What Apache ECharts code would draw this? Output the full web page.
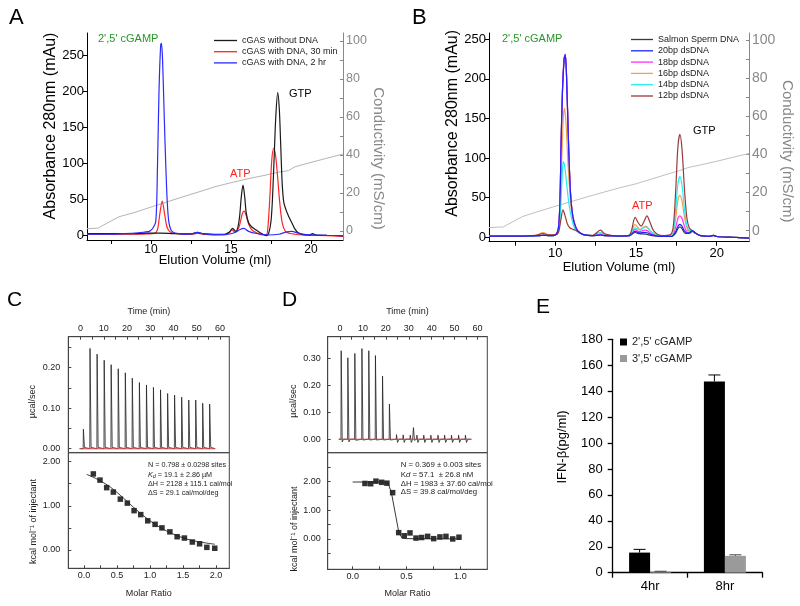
<!DOCTYPE html>
<html>
<head>
<meta charset="utf-8">
<script src="https://cdn.jsdelivr.net/npm/echarts@6.0.0/dist/echarts.min.js"></script>
<style>
html,body{margin:0;padding:0;background:#fff;}
#chart{width:800px;height:606px;}
</style>
</head>
<body>
<div id="chart"></div>
<script>
// ================= Panel A =================
const aNames = ['cGAS without DNA', 'cGAS with DNA, 30 min', 'cGAS with DNA, 2 hr'];
const aBlack = [[6,3],[7,3],[8,3],[9,3],[9.8,3.5],[10.6,3.5],[11.3,3],[12,2.5],[12.6,3],[12.9,4.5],[13.2,3],[14,2],[14.6,2],[14.9,5],[15.1,10],[15.3,6],[15.5,20],[15.65,55],[15.75,70],[15.85,55],[15.95,32],[16.1,18],[16.3,12],[16.5,9],[16.75,5],[17.0,2],[17.2,0],[17.35,3],[17.5,20],[17.6,55],[17.7,110],[17.8,165],[17.92,198],[18.02,175],[18.1,130],[18.2,72],[18.3,46],[18.45,35],[18.6,27],[18.8,18],[19.0,9],[19.2,4],[19.5,1.5],[19.9,1],[20.1,3],[20.3,1],[21,0.5],[22,0]];
const aRed = [[6,2],[8,2],[9,2],[9.8,2.5],[10.2,3],[10.4,8],[10.55,30],[10.7,48],[10.85,30],[11.0,12],[11.2,5],[11.5,3],[12,2],[12.6,2],[12.9,3.5],[13.2,2],[14,1],[14.6,1],[14.9,4],[15.05,8],[15.25,5],[15.5,12],[15.7,30],[15.82,34],[15.95,28],[16.1,16],[16.3,8],[16.6,4],[17.0,1],[17.2,1],[17.3,10],[17.42,50],[17.55,105],[17.67,121],[17.78,112],[17.9,85],[18.05,45],[18.2,18],[18.4,6],[18.7,3],[19,2],[19.5,1],[20,0.5],[21,0],[22,-1]];
const aBlue = [[6,2],[7,2],[8,2.5],[9,3.5],[9.6,5],[9.9,6],[10.1,10],[10.3,20],[10.4,90],[10.5,200],[10.6,262],[10.65,266],[10.72,245],[10.82,170],[10.92,100],[11.02,45],[11.12,18],[11.25,8],[11.45,4],[11.7,3],[12,2],[12.6,3],[12.9,4.5],[13.2,3],[14,1.5],[14.8,2],[15.2,4],[15.6,9],[15.8,10],[16.1,6],[16.6,3],[17.3,1],[18,2],[18.5,5.5],[18.8,6],[19.2,3.5],[19.7,1.5],[20.2,1],[21,0.5],[22,0]];
const aConductivity = [[6,1.2],[6.7,1.5],[7,3],[8,7.5],[9,9.8],[10,12.6],[11,15.3],[12,18],[13,20.6],[14,23.3],[15,25.4],[16,27.4],[17,29.1],[18,31],[18.6,31.8],[19,33.8],[20,36.1],[21,38.3],[22,40.5]];

// ================= Panel B =================
const bNames = ['Salmon Sperm DNA','20bp dsDNA','18bp dsDNA','16bp dsDNA','14bp dsDNA','12bp dsDNA'];
const bSalmon = [[5.9,1.5],[8,1.5],[9,2],[9.3,2.5],[9.6,2],[10,3],[10.2,12],[10.3,50],[10.36,115],[10.45,185],[10.55,225],[10.62,231],[10.7,205],[10.83,115],[10.95,55],[11.1,25],[11.3,11],[11.5,6],[11.8,3],[12.3,2],[12.8,3],[13.1,2],[14,1.5],[14.6,2],[14.95,6],[15.2,4.5],[15.6,4],[16,2],[16.6,1],[17.2,1],[17.45,5],[17.6,11],[17.72,13],[17.85,11],[18.05,5],[18.3,5],[18.5,7.5],[18.7,5],[19,2],[19.5,1],[19.8,2.5],[20,1],[21,0],[22,-1]];
const b20 = [[5.9,1.5],[8,1.5],[9,2],[9.3,2.5],[9.6,2],[10,3],[10.2,12],[10.3,50],[10.36,114],[10.45,184],[10.55,224],[10.62,230],[10.7,204],[10.83,114],[10.95,54],[11.1,25],[11.3,11],[11.5,6],[11.8,3],[12.3,2],[12.8,3],[13.1,2],[14,1.5],[14.6,2],[14.95,7.5],[15.2,5.5],[15.6,6],[16,3],[16.6,1],[17.2,1],[17.45,7],[17.6,14],[17.72,16.4],[17.85,14],[18.0,8],[18.2,5.5],[18.5,8],[18.7,5],[19,2],[19.5,1],[19.8,2.5],[20,1],[21,0],[22,-1]];
const b18 = [[5.9,1.5],[8,1.5],[9,2],[9.3,3],[9.6,2],[10,3],[10.2,12],[10.3,51],[10.36,116],[10.45,186],[10.55,226],[10.62,231],[10.7,206],[10.83,116],[10.95,56],[11.1,26],[11.3,12],[11.5,6],[11.8,3],[12.3,2],[12.8,4],[13.1,2],[14,1.5],[14.6,2],[14.95,10],[15.2,7],[15.6,9],[16,4],[16.6,1],[17.2,1.5],[17.45,12],[17.6,24],[17.72,27],[17.85,24],[18.0,14],[18.15,8],[18.5,8.5],[18.7,5],[19,2],[19.5,1],[19.8,2.5],[20,1],[21,0],[22,-1]];
const b16 = [[5.9,1.5],[8,1.5],[8.8,2.5],[9.25,5.8],[9.6,3],[10,3],[10.2,8],[10.3,35],[10.4,95],[10.5,150],[10.58,163],[10.68,140],[10.8,90],[10.95,45],[11.1,22],[11.3,10],[11.5,6],[11.8,3],[12.3,2],[12.8,6],[13.1,3],[14,1.5],[14.6,2.5],[14.95,16],[15.25,10],[15.6,14],[16,6],[16.6,2],[17.2,2],[17.45,23],[17.6,47],[17.72,53],[17.85,46],[18.0,26],[18.15,12],[18.3,8],[18.5,8],[18.7,5],[19,2],[19.5,1],[19.8,2.5],[20,1],[21,0],[22,-1]];
const b14 = [[5.9,1.5],[8,1.5],[9,2],[9.3,3],[9.6,2],[10,3],[10.2,7],[10.3,25],[10.4,65],[10.5,95.5],[10.6,88],[10.72,65],[10.85,42],[11.0,25],[11.15,14],[11.3,8],[11.5,5],[11.8,3],[12.3,2],[12.8,6],[13.1,3],[14,1.5],[14.6,2.5],[14.95,12],[15.25,9],[15.6,13],[16,6],[16.6,2],[17.1,2],[17.3,6],[17.45,33],[17.6,68],[17.72,76.5],[17.85,66],[18.0,36],[18.15,15],[18.3,9],[18.5,8],[18.7,5],[19,2],[19.5,1],[19.8,2.5],[20,1],[21,0],[22,-1]];
const b12 = [[5.9,1.5],[8,1.5],[8.8,2.5],[9.25,4.5],[9.6,3],[10,3],[10.2,6],[10.35,22],[10.48,34.5],[10.6,28],[10.75,17],[10.9,12],[11.1,10],[11.3,8.5],[11.5,6],[11.8,3],[12.3,2],[12.8,9],[13.1,4],[14,1.5],[14.6,3],[14.95,25],[15.15,18],[15.33,14],[15.5,20],[15.68,27],[15.85,20],[16.1,8],[16.6,2],[17.1,3],[17.3,12],[17.45,55],[17.6,115],[17.72,130],[17.85,112],[18.0,62],[18.15,25],[18.3,12],[18.5,8],[18.7,5],[19,2],[19.5,1],[19.8,2.5],[20,1],[21,0],[22,-1]];
const bConductivity = [[5.9,1.6],[6.8,2],[7,3],[8,7.5],[9,10.2],[10,12.8],[11,15.3],[12,17.8],[13,20.2],[14,22.5],[15,24.6],[16,27.2],[17,29.8],[17.7,31.5],[18.3,33.3],[18.5,33.6],[19,34.5],[20,36.4],[21,38.5],[22,40.5]];

// shared chromatogram ticks
const elutionLabels = [10, 15, 20];
const elutionTicks = [7.5, 10, 12.5, 15, 17.5, 20];
const absLabels = [0, 50, 100, 150, 200, 250];
const condLabels = [0, 20, 40, 60, 80, 100];
const condTicks = [0, 10, 20, 30, 40, 50, 60, 70, 80, 90, 100];

// ================= Panel C (ITC) =================
const cInjTime = [1.15,4.0,7.05,10.1,13.1,16.15,19.2,22.2,25.25,28.3,31.3,34.35,37.4,40.4,43.45,46.5,49.5,52.5,55.5];
const cPeak = [0.048,0.247,0.233,0.218,0.207,0.197,0.187,0.174,0.163,0.157,0.151,0.145,0.136,0.132,0.127,0.120,0.120,0.112,0.110];
const cRatio = [0.141,0.242,0.343,0.444,0.55,0.656,0.758,0.859,0.965,1.076,1.18,1.30,1.41,1.52,1.64,1.75,1.86,1.98];
const cHeat = [1.72,1.58,1.41,1.31,1.15,1.06,0.89,0.80,0.66,0.58,0.50,0.41,0.30,0.27,0.18,0.14,0.06,0.04];
const cFitRatio = [0.04,0.2,0.4,0.6,0.8,1.0,1.2,1.4,1.6,1.8,1.98];
const cFitHeat = [1.71,1.60,1.42,1.17,0.90,0.66,0.47,0.33,0.23,0.17,0.13];
const timeLabels = [0, 10, 20, 30, 40, 50, 60];
const timeTicks = [0, 5, 10, 15, 20, 25, 30, 35, 40, 45, 50, 55, 60];

// ================= Panel D (ITC) =================
const dInjTime = [0.44,3.35,6.4,9.5,12.5,15.4,18.5,21.5,24.6,27.5,30.6,32.0,33.5,36.5,39.6,42.7,45.6,48.6,51.7,54.7];
const dPeak = [0.328,0.302,0.318,0.336,0.328,0.310,0.234,0.130,0.017,0.016,0.015,0.043,0.015,0.015,0.015,0.015,0.015,0.015,0.015,0.015];
const dDip = [-0.010,-0.010,-0.004,-0.003,-0.003,-0.003,-0.003,-0.003,-0.012,-0.012,-0.012,-0.004,-0.012,-0.012,-0.012,-0.012,-0.012,-0.012,-0.012,-0.012];
const dRatio = [0.114,0.167,0.216,0.269,0.318,0.371,0.427,0.479,0.532,0.588,0.64,0.696,0.752,0.81,0.866,0.929,0.987];
const dHeat = [1.93,1.92,2.01,1.97,1.94,1.61,0.22,0.11,0.21,0.03,0.05,0.09,0.01,0.07,0.09,0.0,0.06];
const dFitRatio = [0.0,0.3,0.33,0.36,0.40,0.43,0.46,0.50,1.0];
const dFitHeat = [1.98,1.98,1.93,1.60,0.80,0.20,0.03,0.01,0.0];

// ================= Panel E =================
const eCategories = ['4hr', '8hr'];
const eNames = ["2',5' cGAMP", "3',5' cGAMP"];
const e25 = [15.5, 147.5];
const e25Err = [2.5, 5.0];
const e35 = [0.8, 13.0];
const e35Err = [0.3, 0.8];

// ================= build =================
const FONT = "'Liberation Sans', Arial, sans-serif";
const chart = echarts.init(document.getElementById('chart'), null, {renderer: 'canvas'});

function thermo(times, peaks, dips, start, end) {
  const pts = [[start, 0]];
  times.forEach((t, i) => {
    pts.push([t - 0.05, 0], [t + 0.05, peaks[i]], [t + 0.5, dips ? dips[i] : 0.003], [t + 1.1, 0]);
  });
  pts.push([end, 0]);
  return pts;
}
const zip = (xs, ys) => xs.map((x, i) => [x, ys[i]]);

function chromX(gi, min, labelSize, margin, nameGap) {
  return {gridIndex: gi, type: 'value', min: min, max: 22,
    axisLine: {show: true, onZero: false, lineStyle: {color: '#000', width: 1}},
    axisTick: {show: true, customValues: elutionTicks, length: 4, lineStyle: {color: '#000'}},
    axisLabel: {customValues: elutionLabels, fontSize: labelSize, margin: margin, color: '#000', fontFamily: FONT},
    splitLine: {show: false},
    name: 'Elution Volume (ml)', nameLocation: 'middle', nameGap: nameGap, nameMoveOverlap: false,
    nameTextStyle: {fontSize: 13, color: '#000', fontFamily: FONT}};
}
function chromYL(gi, min, max, nameGap, pad) {
  return {gridIndex: gi, type: 'value', position: 'left', min: min, max: max,
    axisLine: {show: true, onZero: false, lineStyle: {color: '#000'}},
    axisTick: {show: true, customValues: absLabels, length: 4, lineStyle: {color: '#000'}},
    axisLabel: {customValues: absLabels, fontSize: 13, margin: 3, color: '#000', fontFamily: FONT},
    splitLine: {show: false},
    name: 'Absorbance 280nm (mAu)', nameLocation: 'middle', nameGap: nameGap,
    nameTextStyle: {fontSize: 16, color: '#000', fontFamily: FONT, padding: pad}};
}
function chromYR(gi, min, max, labelSize, nameGap, pad) {
  return {gridIndex: gi, type: 'value', position: 'right', min: min, max: max,
    axisLine: {show: true, onZero: false, lineStyle: {color: '#888'}},
    axisTick: {show: true, inside: true, customValues: condTicks, length: 3, lineStyle: {color: '#888'}},
    axisLabel: {customValues: condLabels, fontSize: labelSize, margin: 3, color: '#888', fontFamily: FONT},
    splitLine: {show: false},
    name: 'Conductivity (mS/cm)', nameLocation: 'middle', nameRotate: -90, nameGap: nameGap,
    nameTextStyle: {fontSize: 15, color: '#888', fontFamily: FONT, padding: pad}};
}
function itcX(gi, min, max, pos, labels, ticks, name, nameGap, margin, digits) {
  return {gridIndex: gi, type: 'value', position: pos, min: min, max: max,
    axisLine: {show: true, onZero: false, lineStyle: {color: '#444'}},
    axisTick: {show: true, inside: true, customValues: ticks, length: 3, lineStyle: {color: '#444'}},
    axisLabel: {customValues: labels, fontSize: 9, margin: margin, color: '#222', fontFamily: FONT,
      formatter: v => digits === 0 ? String(Math.round(v)) : v.toFixed(digits)},
    splitLine: {show: false},
    name: name, nameLocation: 'middle', nameGap: nameGap,
    nameTextStyle: {fontSize: 9, color: '#222', fontFamily: FONT}};
}
function itcY(gi, min, max, labels, ticks, name, nameGap, margin, pad) {
  return {gridIndex: gi, type: 'value', position: 'left', min: min, max: max,
    axisLine: {show: true, onZero: false, lineStyle: {color: '#444'}},
    axisTick: {show: true, inside: true, customValues: ticks, length: 3, lineStyle: {color: '#444'}},
    axisLabel: {customValues: labels, fontSize: 9, margin: margin, color: '#222', fontFamily: FONT,
      formatter: v => v.toFixed(2)},
    splitLine: {show: false},
    name: name, nameLocation: 'middle', nameGap: nameGap,
    nameTextStyle: {fontSize: 9, color: '#222', fontFamily: FONT, padding: pad}};
}
function ln(name, data, xi, yi, color, width, smooth) {
  return {type: 'line', name: name, data: data, xAxisIndex: xi, yAxisIndex: yi, symbol: 'none',
    smooth: smooth, lineStyle: {color: color, width: width}, itemStyle: {color: color}, silent: true};
}
function errSeries(vals, errs, off, color) {
  return {type: 'custom', xAxisIndex: 6, yAxisIndex: 8, silent: true, z: 5,
    data: vals.map((v, i) => [i, v, errs[i]]),
    renderItem: (p, api) => {
      const base = api.coord([api.value(0), api.value(1)]);
      const top = api.coord([api.value(0), api.value(1) + api.value(2)]);
      const cx = base[0] + off;
      return {type: 'group', children: [
        {type: 'line', shape: {x1: cx, y1: base[1], x2: cx, y2: top[1]}, style: {stroke: color, lineWidth: 1}},
        {type: 'line', shape: {x1: cx - 6, y1: top[1], x2: cx + 6, y2: top[1]}, style: {stroke: color, lineWidth: 1}}
      ]};
    }};
}
function txt(left, top, text, size, color, rich) {
  const el = {type: 'text', left: left, top: top, z: 100, silent: true,
    style: {text: text, fontSize: size, fontFamily: FONT, fill: color}};
  if (rich) el.style.rich = rich;
  return el;
}
const fitRichC = {i: {fontStyle: 'italic', fontSize: 7.2, fontFamily: FONT, fill: '#222'},
                  s: {fontStyle: 'italic', fontSize: 5.5, fontFamily: FONT, fill: '#222', verticalAlign: 'bottom', padding: [3, 0, 0, 0]}};
const fitRichD = {i: {fontStyle: 'italic', fontSize: 7.8, fontFamily: FONT, fill: '#222'}};

const legendText = {fontSize: 9, lineHeight: 11, color: '#222', fontFamily: FONT};

const option = {
  animation: false,
  backgroundColor: '#fff',
  textStyle: {fontFamily: FONT},
  grid: [
    {left: 87, top: 33, width: 256, height: 207},
    {left: 489, top: 33, width: 260, height: 208.7},
    {left: 68.3, top: 336.7, width: 161, height: 116, show: true, borderColor: '#444', borderWidth: 1},
    {left: 68.3, top: 452.7, width: 161, height: 115.6, show: true, borderColor: '#444', borderWidth: 1},
    {left: 327.7, top: 336.7, width: 159.6, height: 116, show: true, borderColor: '#444', borderWidth: 1},
    {left: 327.7, top: 452.7, width: 159.6, height: 116.6, show: true, borderColor: '#444', borderWidth: 1},
    {left: 612.7, top: 339.3, width: 149.6, height: 233.4}
  ],
  xAxis: [
    chromX(0, 6, 12, 4, 13.5),
    chromX(1, 5.9, 13, 5, 19),
    itcX(2, -5.3, 64, 'top', timeLabels, timeTicks, 'Time (min)', 20.5, 3.5, 0),
    itcX(3, -0.238, 2.2, 'bottom', [0, 0.5, 1.0, 1.5, 2.0], [0, 0.25, 0.5, 0.75, 1.0, 1.25, 1.5, 1.75, 2.0], 'Molar Ratio', 20.5, 3, 1),
    itcX(4, -5.4, 64.3, 'top', timeLabels, timeTicks, 'Time (min)', 20.5, 3.5, 0),
    itcX(5, -0.232, 1.25, 'bottom', [0, 0.5, 1.0], [0, 0.25, 0.5, 0.75, 1.0], 'Molar Ratio', 19.5, 2.5, 1),
    {gridIndex: 6, type: 'category', data: eCategories,
      axisLine: {show: true, lineStyle: {color: '#000', width: 1.3}},
      axisTick: {show: true, length: 5, lineStyle: {color: '#000', width: 1.3}},
      axisLabel: {fontSize: 13, margin: 7, color: '#000', fontFamily: FONT}}
  ],
  yAxis: [
    chromYL(0, -5.95, 280.4, 25.5, [0, 0, 0, 21]),
    chromYR(0, -4.74, 104.2, 12.5, 17.5, [0, 0, 0, 44]),
    chromYL(1, -5.6, 258, 26, [0, 0, 0, 28]),
    chromYR(1, -5.77, 103.7, 14, 29.5, [0, 0, 0, 28]),
    itcY(2, -0.0099, 0.276, [0, 0.1, 0.2], [0, 0.05, 0.1, 0.15, 0.2, 0.25], 'µcal/sec', 31, 8, [0, 14, 0, 0]),
    itcY(3, -0.414, 2.2, [0, 1, 2], [0, 0.5, 1, 1.5, 2], 'kcal mol\u207B\u00B9 of injectant', 30.5, 8, [0, 22, 0, 0]),
    itcY(4, -0.05, 0.38, [0, 0.1, 0.2, 0.3], [0, 0.1, 0.2, 0.3], 'µcal/sec', 30, 7, [0, 13, 0, 0]),
    itcY(5, -1.056, 3.0, [0, 1, 2], [-0.5, 0, 0.5, 1, 1.5, 2, 2.5], 'kcal mol\u207B\u00B9 of injectant', 29, 7, [0, 36, 0, 0]),
    {gridIndex: 6, type: 'value', min: 0, max: 180, interval: 20,
      axisLine: {show: true, lineStyle: {color: '#000', width: 1.3}},
      axisTick: {show: true, length: 5, lineStyle: {color: '#000', width: 1.3}},
      axisLabel: {fontSize: 13, margin: 10, color: '#000', fontFamily: FONT},
      splitLine: {show: false},
      name: 'IFN-β(pg/ml)', nameLocation: 'middle', nameGap: 44,
      nameTextStyle: {fontSize: 13, color: '#000', fontFamily: FONT, padding: [0, 0, 0, 18]}}
  ],
  legend: [
    {data: aNames, orient: 'vertical', left: 214, top: 35, padding: 0, icon: 'rect', itemWidth: 23, itemHeight: 1.3, itemGap: 0.2,
      selectedMode: false, textStyle: legendText},
    {data: bNames, orient: 'vertical', left: 631, top: 34, padding: 0, icon: 'rect', itemWidth: 22, itemHeight: 1.3, itemGap: 0.3,
      selectedMode: false, textStyle: legendText},
    {data: eNames, orient: 'vertical', left: 620, top: 336, padding: 0, icon: 'rect', itemWidth: 7, itemHeight: 7, itemGap: 4.5,
      selectedMode: false, textStyle: {fontSize: 11, lineHeight: 12, color: '#222', fontFamily: FONT}}
  ],
  series: [
    // A
    ln('A conductivity', aConductivity, 0, 1, '#b5b5b5', 1, false),
    ln(aNames[1], aRed, 0, 0, '#ff2424', 1.2, 0.3),
    ln(aNames[0], aBlack, 0, 0, '#1a1a1a', 1.2, 0.3),
    ln(aNames[2], aBlue, 0, 0, '#2a2aff', 1.2, 0.3),
    // B
    ln('B conductivity', bConductivity, 1, 3, '#c0c0c0', 1, false),
    ln(bNames[0], bSalmon, 1, 2, '#3a3a3a', 1.2, 0.3),
    ln(bNames[2], b18, 1, 2, '#ff30ff', 1.2, 0.3),
    ln(bNames[3], b16, 1, 2, '#f0a050', 1.2, 0.3),
    ln(bNames[4], b14, 1, 2, '#20f0f0', 1.2, 0.3),
    ln(bNames[5], b12, 1, 2, '#993a3a', 1.2, 0.3),
    ln(bNames[1], b20, 1, 2, '#2020ff', 1.2, 0.3),
    // C
    ln('C raw', thermo(cInjTime, cPeak, null, -0.5, 58), 2, 4, '#222', 0.8, false),
    ln('C baseline', [[0, 0], [57.8, 0]], 2, 4, '#d83a3a', 1.1, false),
    ln('C fit', zip(cFitRatio, cFitHeat), 3, 5, '#222', 0.9, 0.4),
    {type: 'scatter', name: 'C data', data: zip(cRatio, cHeat), xAxisIndex: 3, yAxisIndex: 5, symbol: 'rect', symbolSize: 5.5, itemStyle: {color: '#000'}, silent: true},
    // D
    ln('D raw', thermo(dInjTime, dPeak, dDip, -0.6, 57), 4, 6, '#222', 0.8, false),
    ln('D baseline', [[-0.5, 0], [57.5, 0]], 4, 6, '#d83a3a', 1.1, false),
    ln('D fit', zip(dFitRatio, dFitHeat), 5, 7, '#222', 0.9, false),
    {type: 'scatter', name: 'D data', data: zip(dRatio, dHeat), xAxisIndex: 5, yAxisIndex: 7, symbol: 'rect', symbolSize: 5.5, itemStyle: {color: '#000'}, silent: true},
    // E
    {type: 'bar', name: eNames[0], data: e25, xAxisIndex: 6, yAxisIndex: 8, barWidth: 21, barGap: '0%', itemStyle: {color: '#000'}, silent: true},
    {type: 'bar', name: eNames[1], data: e35, xAxisIndex: 6, yAxisIndex: 8, barWidth: 21, barGap: '0%', itemStyle: {color: '#9a9a9a'}, silent: true},
    errSeries(e25, e25Err, -10.5, '#000'),
    errSeries(e35, e35Err, 10.5, '#444')
  ],
  graphic: [
    txt(9, 7, 'A', 22, '#000'),
    txt(412, 7, 'B', 22, '#000'),
    txt(7, 289.5, 'C', 21, '#000'),
    txt(282, 289.5, 'D', 21, '#000'),
    txt(536, 296.5, 'E', 21, '#000'),
    txt(98, 33.5, "2',5' cGAMP", 11, '#2a962a'),
    txt(502, 33.8, "2',5' cGAMP", 11, '#2a962a'),
    txt(230, 168.5, 'ATP', 11, '#ff2020'),
    txt(632, 200, 'ATP', 11, '#ff2020'),
    txt(289, 88.5, 'GTP', 11, '#000'),
    txt(693, 125, 'GTP', 11, '#000'),
    txt(148, 461.5, 'N = 0.798 ± 0.0298 sites', 7.2, '#222'),
    txt(148, 471.3, '{i|K}{s|d} = 19.1 ± 2.86 µM', 7.2, '#222', fitRichC),
    txt(148, 480.7, 'ΔH = 2128 ± 115.1 cal/mol', 7.2, '#222'),
    txt(148, 489.7, 'ΔS = 29.1 cal/mol/deg', 7.2, '#222'),
    txt(400.7, 461.2, 'N = 0.369 ± 0.003 sites', 7.8, '#222'),
    txt(400.7, 470.5, 'K{i|d} = 57.1  ± 26.8 nM', 7.8, '#222', fitRichD),
    txt(400.7, 479.5, 'ΔH = 1983 ± 37.60 cal/mol', 7.8, '#222'),
    txt(400.7, 488.2, 'ΔS = 39.8 cal/mol/deg', 7.8, '#222')
  ]
};
chart.setOption(option);
</script>
</body>
</html>
